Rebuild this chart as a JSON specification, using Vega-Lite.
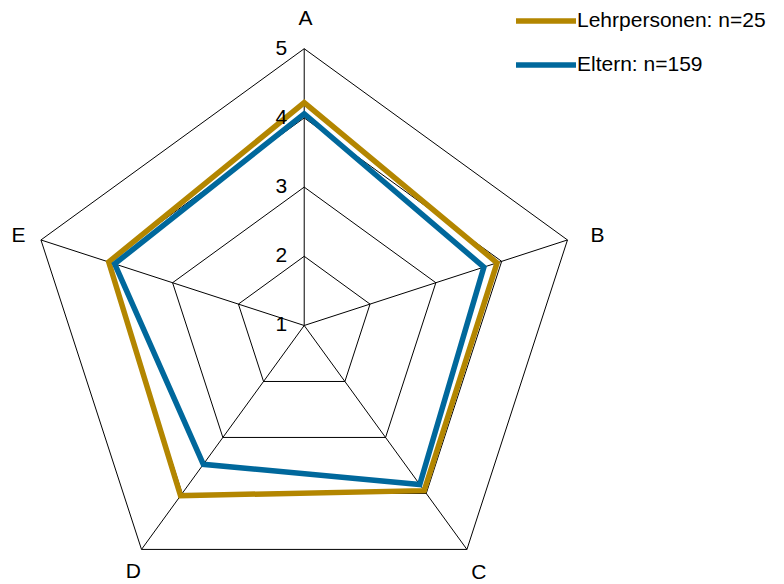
{
  "$schema": "https://vega.github.io/schema/vega-lite/v6.json",
  "width": 784,
  "height": 584,
  "padding": 0,
  "autosize": {"type": "none"},
  "config": {"view": {"stroke": null}, "font": "Liberation Sans", "text": {"font": "Liberation Sans"}},
  "datasets": {
    "scores": [
      {"group": "Lehrpersonen: n=25", "axis": "A", "value": 4.22},
      {"group": "Lehrpersonen: n=25", "axis": "B", "value": 3.93},
      {"group": "Lehrpersonen: n=25", "axis": "C", "value": 3.95},
      {"group": "Lehrpersonen: n=25", "axis": "D", "value": 4.04},
      {"group": "Lehrpersonen: n=25", "axis": "E", "value": 3.97},
      {"group": "Eltern: n=159", "axis": "A", "value": 4.06},
      {"group": "Eltern: n=159", "axis": "B", "value": 3.73},
      {"group": "Eltern: n=159", "axis": "C", "value": 3.84},
      {"group": "Eltern: n=159", "axis": "D", "value": 3.48},
      {"group": "Eltern: n=159", "axis": "E", "value": 3.88}
    ],
    "grid": [
      {"level": 2, "axis": "A"}, {"level": 2, "axis": "B"}, {"level": 2, "axis": "C"}, {"level": 2, "axis": "D"}, {"level": 2, "axis": "E"},
      {"level": 3, "axis": "A"}, {"level": 3, "axis": "B"}, {"level": 3, "axis": "C"}, {"level": 3, "axis": "D"}, {"level": 3, "axis": "E"},
      {"level": 4, "axis": "A"}, {"level": 4, "axis": "B"}, {"level": 4, "axis": "C"}, {"level": 4, "axis": "D"}, {"level": 4, "axis": "E"},
      {"level": 5, "axis": "A"}, {"level": 5, "axis": "B"}, {"level": 5, "axis": "C"}, {"level": 5, "axis": "D"}, {"level": 5, "axis": "E"}
    ],
    "axes": [
      {"axis": "A"}, {"axis": "B"}, {"axis": "C"}, {"axis": "D"}, {"axis": "E"}
    ],
    "ticks": [
      {"level": 1}, {"level": 2}, {"level": 3}, {"level": 4}, {"level": 5}
    ]
  },
  "layer": [
    {
      "data": {"name": "grid"},
      "transform": [
        {"calculate": "indexof('ABCDE', datum.axis)", "as": "idx"},
        {"calculate": "datum.idx * 2 * PI / 5", "as": "ang"},
        {"calculate": "(datum.level - 1) * sin(datum.ang)", "as": "px"},
        {"calculate": "(datum.level - 1) * cos(datum.ang)", "as": "py"}
      ],
      "mark": {"type": "line", "interpolate": "linear-closed", "color": "#000000", "strokeWidth": 1},
      "encoding": {
        "x": {"field": "px", "type": "quantitative", "scale": {"domain": [-4.396, 6.933], "zero": false, "nice": false}, "axis": null},
        "y": {"field": "py", "type": "quantitative", "scale": {"domain": [-3.736, 4.704], "zero": false, "nice": false}, "axis": null},
        "detail": {"field": "level", "type": "nominal"},
        "order": {"field": "idx", "type": "quantitative"}
      }
    },
    {
      "data": {"name": "axes"},
      "transform": [
        {"calculate": "indexof('ABCDE', datum.axis)", "as": "idx"},
        {"calculate": "datum.idx * 2 * PI / 5", "as": "ang"},
        {"calculate": "4 * sin(datum.ang)", "as": "px"},
        {"calculate": "4 * cos(datum.ang)", "as": "py"}
      ],
      "mark": {"type": "rule", "color": "#000000", "strokeWidth": 1},
      "encoding": {
        "x": {"field": "px", "type": "quantitative"},
        "y": {"field": "py", "type": "quantitative"},
        "x2": {"datum": 0},
        "y2": {"datum": 0}
      }
    },
    {
      "data": {"name": "scores"},
      "transform": [
        {"calculate": "indexof('ABCDE', datum.axis)", "as": "idx"},
        {"calculate": "datum.idx * 2 * PI / 5", "as": "ang"},
        {"calculate": "(datum.value - 1) * sin(datum.ang)", "as": "px"},
        {"calculate": "(datum.value - 1) * cos(datum.ang)", "as": "py"}
      ],
      "mark": {"type": "line", "interpolate": "linear-closed", "strokeWidth": 5.5, "strokeJoin": "miter"},
      "encoding": {
        "x": {"field": "px", "type": "quantitative"},
        "y": {"field": "py", "type": "quantitative"},
        "order": {"field": "idx", "type": "quantitative"},
        "color": {
          "field": "group",
          "type": "nominal",
          "scale": {"domain": ["Lehrpersonen: n=25", "Eltern: n=159"], "range": ["#B38600", "#00689C"]},
          "legend": {
            "title": null,
            "orient": "none",
            "legendX": 513,
            "legendY": -12,
            "symbolType": "stroke",
            "symbolSize": 3600,
            "symbolStrokeWidth": 5.5,
            "labelFont": "Liberation Sans",
            "labelFontSize": 21,
            "labelColor": "#000000",
            "labelLimit": 400,
            "labelOffset": -2,
            "rowPadding": -14,
            "padding": 0
          }
        }
      }
    },
    {
      "data": {"name": "ticks"},
      "transform": [
        {"calculate": "datum.level - 1", "as": "py"}
      ],
      "mark": {"type": "text", "align": "right", "baseline": "middle", "dx": -17, "fontSize": 21, "color": "#000000", "font": "Liberation Sans"},
      "encoding": {
        "x": {"datum": 0},
        "y": {"field": "py", "type": "quantitative"},
        "text": {"field": "level", "type": "nominal"}
      }
    },
    {
      "data": {"name": "axes"},
      "transform": [
        {"calculate": "indexof('ABCDE', datum.axis)", "as": "idx"},
        {"calculate": "datum.idx * 2 * PI / 5", "as": "ang"},
        {"calculate": "4 * sin(datum.ang) + [0.02, 0.435, 0.173, -0.117, -0.325][datum.idx]", "as": "px"},
        {"calculate": "4 * cos(datum.ang) + [0.43, 0.06, -0.335, -0.328, 0.058][datum.idx]", "as": "py"}
      ],
      "mark": {"type": "text", "align": "center", "baseline": "middle", "fontSize": 21, "color": "#000000", "font": "Liberation Sans"},
      "encoding": {
        "x": {"field": "px", "type": "quantitative"},
        "y": {"field": "py", "type": "quantitative"},
        "text": {"field": "axis", "type": "nominal"}
      }
    }
  ]
}
